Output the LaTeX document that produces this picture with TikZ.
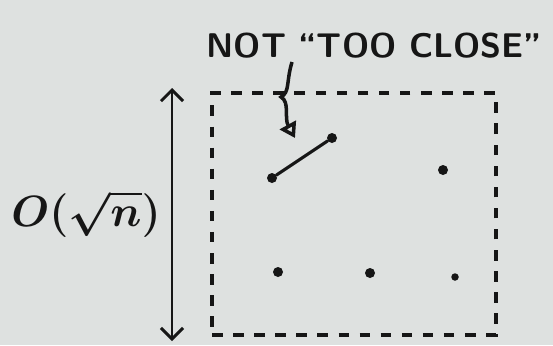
\documentclass[tikz,border=0pt]{standalone}
\usepackage{amsmath}
\usepackage{tikz}
\usetikzlibrary{arrows.meta,positioning,calc}
\definecolor{board}{HTML}{DEE1E0}
\definecolor{ink}{HTML}{161616}

\begin{document}
\begin{tikzpicture}[
  x=0.02cm, y=-0.02cm,
  cell/.style={draw=ink, dash pattern=on 6pt off 6pt, line width=2.6pt,
               minimum width=5.68cm, minimum height=4.84cm, inner sep=0pt},
  dot/.style={circle, fill=ink, inner sep=0pt, minimum size=2mm},
  note/.style={text=ink, font=\fontsize{19.5}{23}\sffamily\bfseries\selectfont, inner sep=0pt},
  sizelbl/.style={text=ink, font=\fontsize{38}{42}\selectfont\boldmath, inner sep=0pt},
  link/.style={draw=ink, line width=1.8pt, line cap=round},
  dim/.style={{Straight Barb[length=2.2mm, width=4.4mm]}-{Straight Barb[length=2.2mm, width=4.4mm]},
              draw=ink, line width=1.7pt},
  pointer/.style={-{Triangle[open, length=3mm, width=3.6mm]}, draw=ink, line width=2pt}
]
\fill[board] (0,0) rectangle (553,345);
\useasboundingbox (0,0) rectangle (553,345);

\node[note] (lbl) at (374,46) {NOT ``TOO CLOSE''};

\node[cell] (sq) at (354,214) {};

\node[dot] (p1) at (272,178) {};
\node[dot] (p2) at (332,138) {};
\node[dot] (p3) at (443,170) {};
\node[dot] (p4) at (278,272) {};
\node[dot] (p5) at (370,273) {};
\node[dot, minimum size=1.5mm] (p6) at (455,277) {};

\draw[link] (p1) -- (p2);
\coordinate (seg) at (295,138);
\draw[pointer] (292,62) .. controls (286,82) and (290,92) .. (281,97)
  .. controls (290,102) and (284,118) .. (seg);

% side length of the cell
\coordinate (top) at (172,88);
\coordinate (bot) at (172,341);
\draw[dim] (top) -- (bot);
\node[sizelbl] (len) at (86,214) {$O(\sqrt{n})$};
\end{tikzpicture}
\end{document}
